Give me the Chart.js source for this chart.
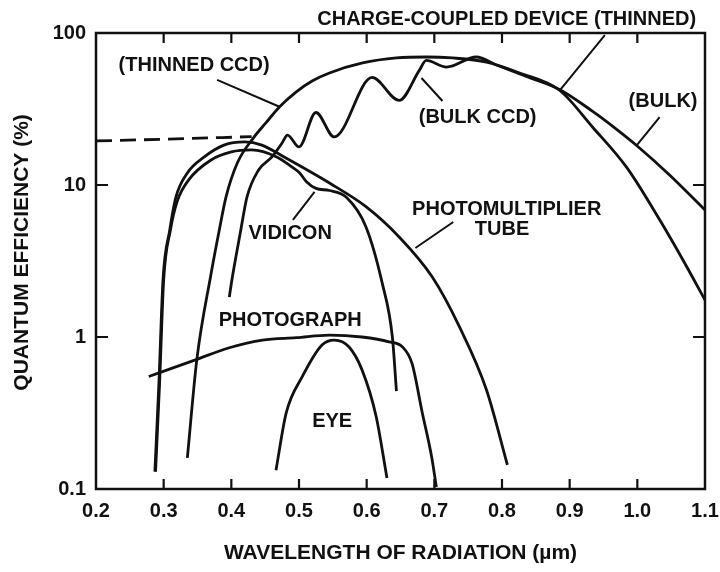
<!DOCTYPE html>
<html>
<head>
<meta charset="utf-8">
<script src="https://cdn.jsdelivr.net/npm/chart.js@4"></script>
<style>
  html, body { margin: 0; padding: 0; background: #fff; }
  #wrap { width: 720px; height: 572px; }
</style>
</head>
<body>
<div id="wrap"><canvas id="qeChart" width="720" height="572"></canvas></div>
<script>
// wavelength (um) / quantum efficiency (%)
const thinnedX = [0.335, 0.349, 0.37, 0.382, 0.392, 0.409, 0.433, 0.451, 0.471, 0.496, 0.52, 0.545, 0.594, 0.644, 0.688, 0.727, 0.777, 0.826, 0.885, 0.934, 0.984, 1.033, 1.073, 1.1];
const thinnedY = [0.16, 0.71, 2.6, 5.0, 8.3, 14, 20.5, 25.6, 32.6, 41, 48.5, 54.6, 63.5, 68.5, 69.5, 68.5, 64.4, 54.6, 42, 24, 13.1, 5.9, 2.9, 1.75];

const uvCoatX = [0.2, 0.3, 0.43];
const uvCoatY = [19.5, 20, 20.8];

const bulkX = [0.397, 0.401, 0.414, 0.423, 0.44, 0.46, 0.475, 0.483, 0.5, 0.525, 0.552, 0.608, 0.648, 0.678, 0.688, 0.718, 0.762, 0.792, 0.84, 0.885, 0.934, 0.967, 0.999, 1.048, 1.1];
const bulkY = [1.83, 2.4, 5.06, 8.3, 12.5, 15.3, 18.9, 21.3, 17.8, 30, 20.7, 51, 36, 57, 66, 59.7, 69.5, 61.6, 51, 42.5, 30.5, 23.7, 18.2, 11.6, 6.85];

const pmtX = [0.287, 0.293, 0.299, 0.309, 0.318, 0.335, 0.36, 0.389, 0.42, 0.445, 0.48, 0.545, 0.599, 0.648, 0.697, 0.737, 0.777, 0.808];
const pmtY = [0.13, 0.5, 2.37, 5.06, 8.3, 12, 15.3, 18.3, 19.2, 18.3, 15.1, 10.3, 7.2, 4.55, 2.48, 1.17, 0.45, 0.144];

const vidiconX = [0.288, 0.294, 0.3, 0.31, 0.32, 0.337, 0.37, 0.4, 0.43, 0.467, 0.49, 0.501, 0.511, 0.525, 0.545, 0.57, 0.599, 0.623, 0.638, 0.644];
const vidiconY = [0.13, 0.5, 2.37, 5.06, 7.8, 10.8, 14.6, 16.5, 17, 15.3, 13.1, 12, 10.5, 9.5, 9.2, 8.3, 5.3, 2.26, 1.0, 0.44];

const photoX = [0.278, 0.348, 0.397, 0.446, 0.496, 0.545, 0.593, 0.633, 0.653, 0.667, 0.682, 0.696, 0.703];
const photoY = [0.55, 0.71, 0.85, 0.955, 0.99, 1.03, 1.0, 0.93, 0.86, 0.67, 0.32, 0.163, 0.103];

const eyeX = [0.466, 0.481, 0.505, 0.534, 0.552, 0.574, 0.593, 0.614, 0.63];
const eyeY = [0.133, 0.316, 0.55, 0.885, 0.955, 0.86, 0.61, 0.3, 0.118];

const xTicks = [0.2, 0.3, 0.4, 0.5, 0.6, 0.7, 0.8, 0.9, 1.0, 1.1];
const yTicks = [0.1, 1, 10, 100];

// callout text and leader lines, in data units
const labels = [
  { text: "CHARGE-COUPLED DEVICE (THINNED)", x: 0.807, y: 123 },
  { text: "(THINNED CCD)", x: 0.345, y: 60.7 },
  { text: "(BULK CCD)", x: 0.764, y: 28 },
  { text: "(BULK)", x: 1.038, y: 35.7 },
  { text: "VIDICON", x: 0.487, y: 4.83 },
  { text: "PHOTOMULTIPLIER", x: 0.807, y: 6.95 },
  { text: "TUBE", x: 0.8, y: 5.06 },
  { text: "PHOTOGRAPH", x: 0.487, y: 1.29 },
  { text: "EYE", x: 0.549, y: 0.276 },
];
const leaders = [
  [0.952, 97, 0.886, 42.2],
  [0.379, 49.1, 0.472, 32.6],
  [0.712, 35.7, 0.681, 50.6],
  [1.033, 28, 0.999, 18.2],
  [0.491, 5.89, 0.523, 9.0],
  [0.728, 5.71, 0.672, 3.85],
];

const ink = "#111";
const font = "'Liberation Sans', Arial, sans-serif";

function pts(xs, ys) {
  return xs.map((x, i) => ({ x: x, y: ys[i] }));
}

function curve(data, dash) {
  return {
    data: data,
    borderColor: ink,
    borderWidth: 2.8,
    borderDash: dash || [],
    pointRadius: 0,
    cubicInterpolationMode: "monotone",
    fill: false,
  };
}

const framePlugin = {
  id: "frame",
  afterDatasetsDraw(chart) {
    const { ctx, chartArea: a, scales } = chart;
    ctx.save();
    ctx.strokeStyle = ink;
    ctx.lineWidth = 2.5;
    ctx.strokeRect(a.left, a.top, a.right - a.left, a.bottom - a.top);
    ctx.lineWidth = 2.2;
    ctx.beginPath();
    xTicks.slice(1, -1).forEach((v) => {
      const px = scales.x.getPixelForValue(v);
      ctx.moveTo(px, a.bottom); ctx.lineTo(px, a.bottom - 10);
      ctx.moveTo(px, a.top); ctx.lineTo(px, a.top + 10);
    });
    yTicks.slice(1, -1).forEach((v) => {
      const py = scales.y.getPixelForValue(v);
      ctx.moveTo(a.left, py); ctx.lineTo(a.left + 12, py);
      ctx.moveTo(a.right, py); ctx.lineTo(a.right - 12, py);
    });
    ctx.stroke();

    // callouts
    ctx.lineWidth = 2;
    ctx.beginPath();
    leaders.forEach(([x1, y1, x2, y2]) => {
      ctx.moveTo(scales.x.getPixelForValue(x1), scales.y.getPixelForValue(y1));
      ctx.lineTo(scales.x.getPixelForValue(x2), scales.y.getPixelForValue(y2));
    });
    ctx.stroke();
    ctx.fillStyle = ink;
    ctx.font = "bold 20px " + font;
    ctx.textAlign = "center";
    ctx.textBaseline = "middle";
    labels.forEach((l) => {
      ctx.fillText(l.text, scales.x.getPixelForValue(l.x), scales.y.getPixelForValue(l.y));
    });

    // y axis title, a little above the middle as in the original
    ctx.font = "bold 21px " + font;
    ctx.translate(22, scales.y.getPixelForValue(3.6));
    ctx.rotate(-Math.PI / 2);
    ctx.fillText("QUANTUM EFFICIENCY (%)", 0, 0);
    ctx.restore();
  },
};

new Chart(document.getElementById("qeChart").getContext("2d"), {
  type: "line",
  data: {
    datasets: [
      curve(pts(thinnedX, thinnedY)),
      curve(pts(uvCoatX, uvCoatY), [16, 8]),
      curve(pts(bulkX, bulkY)),
      curve(pts(pmtX, pmtY)),
      curve(pts(vidiconX, vidiconY)),
      curve(pts(photoX, photoY)),
      curve(pts(eyeX, eyeY)),
    ],
  },
  options: {
    responsive: false,
    animation: false,
    layout: { padding: { top: 33, right: 15, left: 0, bottom: 0 } },
    plugins: { legend: { display: false }, tooltip: { enabled: false } },
    scales: {
      x: {
        type: "linear",
        min: 0.2,
        max: 1.1,
        afterBuildTicks: (s) => { s.ticks = xTicks.map((v) => ({ value: v })); },
        afterFit: (s) => { s.height = 83; s.paddingLeft = 0; s.paddingRight = 0; },
        grid: { display: false, drawTicks: false },
        border: { display: false },
        ticks: {
          color: ink,
          padding: 10,
          maxRotation: 0,
          font: { family: font, size: 20, weight: "bold" },
          callback: (v) => Number(v).toFixed(1),
        },
        title: {
          display: true,
          text: "WAVELENGTH OF RADIATION (\u00b5m)",
          color: ink,
          font: { family: font, size: 21, weight: "bold" },
          padding: { top: 0, bottom: 6 },
        },
      },
      y: {
        type: "logarithmic",
        min: 0.1,
        max: 100,
        afterBuildTicks: (s) => { s.ticks = yTicks.map((v) => ({ value: v })); },
        afterFit: (s) => { s.width = 96; s.paddingTop = 0; s.paddingBottom = 0; },
        grid: { display: false, drawTicks: false },
        border: { display: false },
        ticks: {
          color: ink,
          padding: 10,
          font: { family: font, size: 20, weight: "bold" },
          callback: (v) => String(v),
        },
      },
    },
  },
  plugins: [framePlugin],
});
</script>
</body>
</html>
